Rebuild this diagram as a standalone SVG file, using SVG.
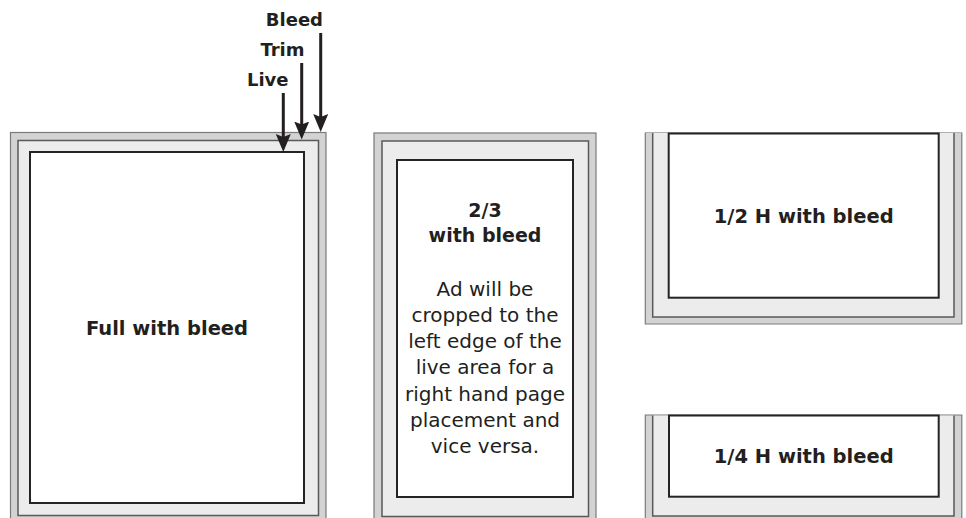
<svg xmlns="http://www.w3.org/2000/svg" width="966" height="518" viewBox="0 0 966 518">
<defs>
<style>
.bleed{fill:#d3d3d3;stroke:#7a7a7a;stroke-width:1.2}
.trim{fill:#ececec;stroke:#5a5a5a;stroke-width:1.5}
.bleedfill{fill:#d3d3d3}
.trimfill{fill:#ececec}
.bleededge{fill:none;stroke:#7a7a7a;stroke-width:1.2}
.trimedge{fill:none;stroke:#5a5a5a;stroke-width:1.5}
.live{fill:#ffffff;stroke:#262324;stroke-width:2}
.lbl{font-family:"DejaVu Sans",sans-serif;font-weight:bold;fill:#231f20;text-anchor:middle}
.arrowlbl{font-family:"DejaVu Sans",sans-serif;font-weight:bold;font-size:18px;fill:#231f20;text-anchor:end}
.body{font-family:"DejaVu Sans",sans-serif;font-size:20px;fill:#231f20;text-anchor:middle}
.shaft{stroke:#231f20;stroke-width:3;fill:none}
</style>
<marker id="ah" markerUnits="userSpaceOnUse" viewBox="0 -8 18 16" refX="8" refY="0" markerWidth="18" markerHeight="16" orient="auto">
<path d="M0,-7.5 L18,0 L0,7.5 L3,0 Z" fill="#231f20"/>
</marker>
</defs>
<rect width="966" height="518" fill="#ffffff"/>

<g id="full">
<rect class="bleed" x="10.5" y="132.5" width="315.5" height="400"/>
<rect class="trim" x="18" y="140.5" width="300.5" height="375"/>
<rect class="live" x="30" y="152" width="274" height="351"/>
<text class="lbl" x="167" y="335" font-size="19.5">Full with bleed</text>
</g>

<g id="two-thirds">
<rect class="bleed" x="374" y="133" width="222" height="400"/>
<rect class="trim" x="382" y="141" width="206.5" height="375.5"/>
<rect class="live" x="397" y="160" width="176" height="337"/>
<text class="lbl" x="485" y="217" font-size="19">2/3</text>
<text class="lbl" x="485" y="242" font-size="19">with bleed</text>
<text class="body" x="485" y="296">Ad will be</text>
<text class="body" x="485" y="322">cropped to the</text>
<text class="body" x="485" y="348">left edge of the</text>
<text class="body" x="485" y="374">live area for a</text>
<text class="body" x="485" y="401">right hand page</text>
<text class="body" x="485" y="427">placement and</text>
<text class="body" x="485" y="453">vice versa.</text>
</g>

<g id="half-h">
<rect class="bleedfill" x="645.3" y="132.5" width="316.5" height="191.5"/>
<path class="bleededge" d="M645.3,132.5 V324 H961.8 V132.5"/>
<line x1="645.3" y1="132.5" x2="961.8" y2="132.5" stroke="#b0b0b0" stroke-width="1.2"/>
<rect class="trimfill" x="652.7" y="133" width="301.3" height="184"/>
<path class="trimedge" d="M652.7,133 V317 H954 V133"/>
<rect class="live" x="668.7" y="133.5" width="270" height="164.2"/>
<text class="lbl" x="803.7" y="223" font-size="19.5">1/2 H with bleed</text>
</g>

<g id="quarter-h">
<rect class="bleedfill" x="645.3" y="415" width="316.5" height="110"/>
<path class="bleededge" d="M645.3,525 V415 H961.8 V525"/>
<rect class="trimfill" x="652.7" y="415.6" width="301.3" height="100.4"/>
<path class="trimedge" d="M652.7,415.6 V516 H954 V415.6"/>
<rect class="live" x="669" y="415.5" width="269.7" height="81.2"/>
<text class="lbl" x="803.7" y="463" font-size="19.5">1/4 H with bleed</text>
</g>

<g id="connectors">
<line class="shaft" x1="320.7" y1="33" x2="320.7" y2="122" marker-end="url(#ah)"/>
<line class="shaft" x1="301.7" y1="63" x2="301.7" y2="129.5" marker-end="url(#ah)"/>
<line class="shaft" x1="283.3" y1="93" x2="283.3" y2="142" marker-end="url(#ah)"/>
</g>

<g id="labels">
<text class="arrowlbl" x="323" y="26">Bleed</text>
<text class="arrowlbl" x="304.5" y="56">Trim</text>
<text class="arrowlbl" x="288.5" y="86">Live</text>
</g>
</svg>
